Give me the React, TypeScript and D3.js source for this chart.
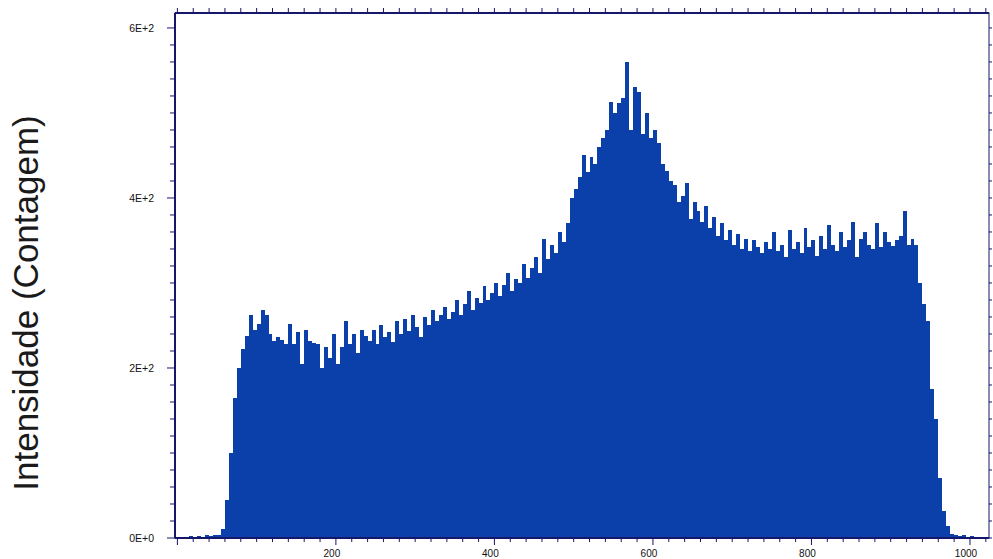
import React from "react";
import * as d3 from "d3";

// ---- data ----
const binWidth = 5; // channels per bin
const counts: number[] = [
  0, 1, 1, 2, 1, 2, 1, 3, 2, 3,
  4, 10, 45, 100, 165, 200, 222, 238, 262, 245,
  252, 268, 262, 240, 232, 236, 233, 228, 252, 228,
  242, 205, 245, 232, 229, 228, 200, 225, 212, 240,
  205, 225, 255, 228, 240, 218, 245, 238, 232, 245,
  228, 250, 236, 242, 230, 255, 240, 258, 244, 262,
  248, 236, 260, 250, 268, 255, 262, 272, 258, 266,
  280, 262, 275, 290, 268, 282, 276, 296, 280, 288,
  300, 285, 298, 312, 290, 305, 300, 322, 306, 318,
  330, 312, 352, 328, 345, 335, 360, 348, 370, 400,
  410, 425, 450, 430, 448, 440, 460, 470, 480, 513,
  500, 512, 518, 560, 480, 530, 525, 475, 500, 470,
  480, 465, 440, 432, 420, 415, 395, 402, 418, 375,
  395, 385, 372, 390, 365, 378, 355, 370, 350, 362,
  345, 358, 340, 352, 338, 350, 342, 335, 348, 340,
  360, 338, 345, 330, 362, 340, 348, 335, 365, 342,
  350, 332, 355, 340, 368, 345, 338, 360, 342, 350,
  372, 330, 352, 360, 345, 340, 370, 342, 360, 348,
  343, 350, 355, 385, 345, 352, 345, 300, 275, 255,
  175, 140, 70, 32, 14, 5, 4, 2, 3, 1,
  2, 1, 1, 0,
];
const yMajorTicks = [0, 200, 400, 600];
const yTickLabels = ["0E+0", "2E+2", "4E+2", "6E+2"];
const xMajorTicks = [200, 400, 600, 800, 1000];
const xTickLabels = ["200", "400", "600", "800", "1000"];
const yLabel = "Intensidade (Contagem)";

const W = 993;
const H = 559;
const frame = { left: 175, right: 989, top: 13, bottom: 538 };

export default function App() {
  const x = d3.scaleLinear().domain([-3, 1024]).range([frame.left, frame.right]);
  const y = d3.scaleLinear().domain([0, 617.6]).range([frame.bottom, frame.top]);

  const xMinor = d3.range(0, 1021, 20);
  const yMinor = d3.range(0, 618, 20);
  const navy = "#16166a";

  return (
    <svg
      width={W}
      height={H}
      style={{ position: "absolute", left: 0, top: 0, background: "#ffffff" }}
      fontFamily="'Liberation Sans', Arial, sans-serif"
    >
      <rect x={0} y={0} width={W} height={H} fill="#ffffff" />
      {/* bars */}
      <g shapeRendering="crispEdges">
        {counts.map((c, i) => {
          const x0 = x(i * binWidth);
          const x1 = x((i + 1) * binWidth);
          return (
            <rect
              key={i}
              x={x0}
              y={y(c)}
              width={x1 - x0}
              height={y(0) - y(c)}
              fill="#0b3fa9"
            />
          );
        })}
      </g>
      {/* frame */}
      <rect
        x={frame.left}
        y={frame.top}
        width={frame.right - frame.left}
        height={frame.bottom - frame.top}
        fill="none"
        stroke={navy}
        strokeWidth={1}
      />
      <line x1={frame.left} x2={frame.left} y1={frame.top} y2={frame.bottom} stroke={navy} strokeWidth={2} />
      <line x1={frame.left} x2={frame.right} y1={frame.top} y2={frame.top} stroke={navy} strokeWidth={2} />
      <line x1={frame.left} x2={frame.right} y1={frame.bottom} y2={frame.bottom} stroke={navy} strokeWidth={2} />
      {/* ticks */}
      <g stroke={navy} strokeWidth={1}>
        {yMinor.map((v) => (
          <line key={"yl" + v} x1={frame.left - (v % 200 === 0 ? 8 : 5)} x2={frame.left} y1={y(v)} y2={y(v)} />
        ))}
        {yMinor.map((v) => (
          <line key={"yr" + v} x1={frame.right} x2={frame.right + 3} y1={y(v)} y2={y(v)} />
        ))}
        {xMinor.map((v) => (
          <line key={"xb" + v} x1={x(v)} x2={x(v)} y1={frame.bottom} y2={frame.bottom + (v % 200 === 0 ? 7 : 4)} />
        ))}
        {xMinor.map((v) => (
          <line key={"xt" + v} x1={x(v)} x2={x(v)} y1={frame.top} y2={frame.top - 5} />
        ))}
      </g>
      {/* tick labels */}
      {yMajorTicks.map((v, i) => (
        <text key={"ytl" + v} x={frame.left - 21} y={y(v)} dy="0.35em" textAnchor="end" fontSize={10.5} fill="#111">
          {yTickLabels[i]}
        </text>
      ))}
      {xMajorTicks.map((v, i) => (
        <text key={"xtl" + v} x={x(v) - 4} y={557} textAnchor="middle" fontSize={10} fill="#111">
          {xTickLabels[i]}
        </text>
      ))}
      {/* y axis title */}
      <text
        transform={`translate(38, 303) rotate(-90)`}
        textAnchor="middle"
        fontSize={35}
        fill="#1a1a1a"
      >
        {yLabel}
      </text>
    </svg>
  );
}
